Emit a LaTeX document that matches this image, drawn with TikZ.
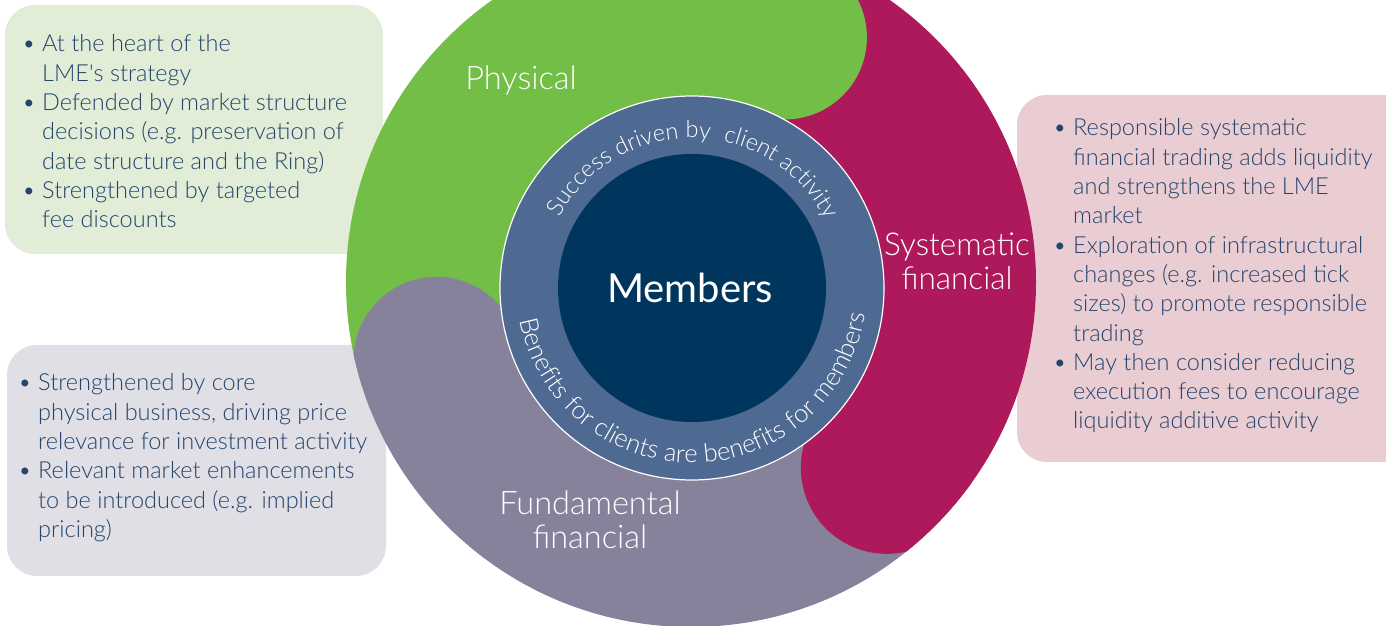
\documentclass[tikz,border=0pt]{standalone}
\usepackage{fontspec}
\setmainfont{Lato Light}
\newfontfamily\latoreg{Lato}
\usetikzlibrary{decorations.text}
\definecolor{cgreen}{RGB}{115,190,70}
\definecolor{cpurple}{RGB}{173,25,91}
\definecolor{cgrey}{RGB}{134,130,155}
\definecolor{cring}{RGB}{78,106,146}
\definecolor{cnavy}{RGB}{0,53,94}
\definecolor{boxgreen}{RGB}{225,237,215}
\definecolor{boxgrey}{RGB}{224,223,229}
\definecolor{boxpink}{RGB}{234,205,211}
\definecolor{ctext}{RGB}{36,68,108}
\newcommand{\bul}{\makebox[20pt][l]{\textbullet}}
\newcommand{\ind}{\hspace*{20pt}}
\newcommand{\boxfont}{\fontsize{23.5}{29.3}\selectfont}
\begin{document}
\begin{tikzpicture}[x=1pt,y=1pt,
  infobox/.style={rounded corners=30pt},
  boxtext/.style={inner sep=0pt, anchor=base west, text=ctext},
  title/.style={inner sep=0pt, text=white, align=center, font=\fontsize{32.5}{34}\selectfont}]
\useasboundingbox (0,0) rectangle (1386,626);
% info boxes
\fill[boxgreen, infobox] (5,372) rectangle (383,621);
\fill[boxgrey, infobox] (7,50) rectangle (386,281);
\fill[boxpink, infobox] (1017,164) rectangle (1430,531);
% outer wheel
\begin{scope}[shift={(691,344)}]
  \clip (0,0) circle[radius=345];
  \fill[cgreen] (0,0) -- (69:420) arc[start angle=69, end angle=197, radius=420] -- cycle;
  \fill[cgrey] (0,0) -- (197:420) arc[start angle=197, end angle=316.5, radius=420] -- cycle;
  \fill[cpurple] (0,0) -- (-43.5:420) arc[start angle=-43.5, end angle=69, radius=420] -- cycle;
  \fill[cgreen] (69:262) circle[radius=82];
  \fill[cgrey] (197:266) circle[radius=83];
  \fill[cpurple] (-43.5:270) circle[radius=86];
\end{scope}
% ring and core
\begin{scope}[shift={(692,338)}]
  \fill[cring, draw=white, line width=1.2pt] (0,0) circle[radius=192];
  \fill[cnavy] (0,0) circle[radius=134];
  \path[decorate, decoration={text along path, text align=right, text color=white,
     text={|\fontsize{23.5}{25}\selectfont|Success driven by}}]
     (178:150) arc[start angle=178, end angle=83, radius=150];
  \path[decorate, decoration={text along path, text align=left, text color=white,
     text={|\fontsize{23.5}{25}\selectfont|client activity}}]
     (78:150) arc[start angle=78, end angle=0, radius=150];
  \path[decorate, decoration={text along path, text align=center, text color=white,
     text={|\fontsize{25.5}{27}\selectfont|Benefits for clients are benefits for members}}]
     (175:175) arc[start angle=175, end angle=367, radius=175];
  \node[inner sep=0pt, text=white, font=\latoreg\fontsize{40}{44}\selectfont] (mem) at (-2,0) {Members};
\end{scope}
% titles
\node[title] (phys) at (521,545) {Physical};
\node[title, font=\fontsize{31.5}{34}\selectfont] (sys) at (957,365) {Systematic\\financial};
\node[title] (fund) at (590,106) {Fundamental\\financial};
% box texts
\node[boxtext] (gtext) at (22,574) {\parbox[t]{380pt}{\boxfont\raggedright
\bul At the heart of the\\
\ind LME\textquotesingle s strategy\\
\bul Defended by market structure\\
\ind decisions (e.g. preservation of\\
\ind date structure and the Ring)\\
\bul Strengthened by targeted\\
\ind fee discounts}};
\node[boxtext] (rtext) at (18,235) {\parbox[t]{380pt}{\boxfont\raggedright
\bul Strengthened by core\\
\ind physical business, driving price\\
\ind relevance for investment activity\\
\bul Relevant market enhancements\\
\ind to be introduced (e.g. implied\\
\ind pricing)}};
\node[boxtext] (ptext) at (1053,490) {\parbox[t]{380pt}{\boxfont\raggedright
\bul Responsible systematic\\
\ind financial trading adds liquidity\\
\ind and strengthens the LME\\
\ind market\\
\bul Exploration of infrastructural\\
\ind changes (e.g. increased tick\\
\ind sizes) to promote responsible\\
\ind trading\\
\bul May then consider reducing\\
\ind execution fees to encourage\\
\ind liquidity additive activity}};
\end{tikzpicture}
\end{document}
